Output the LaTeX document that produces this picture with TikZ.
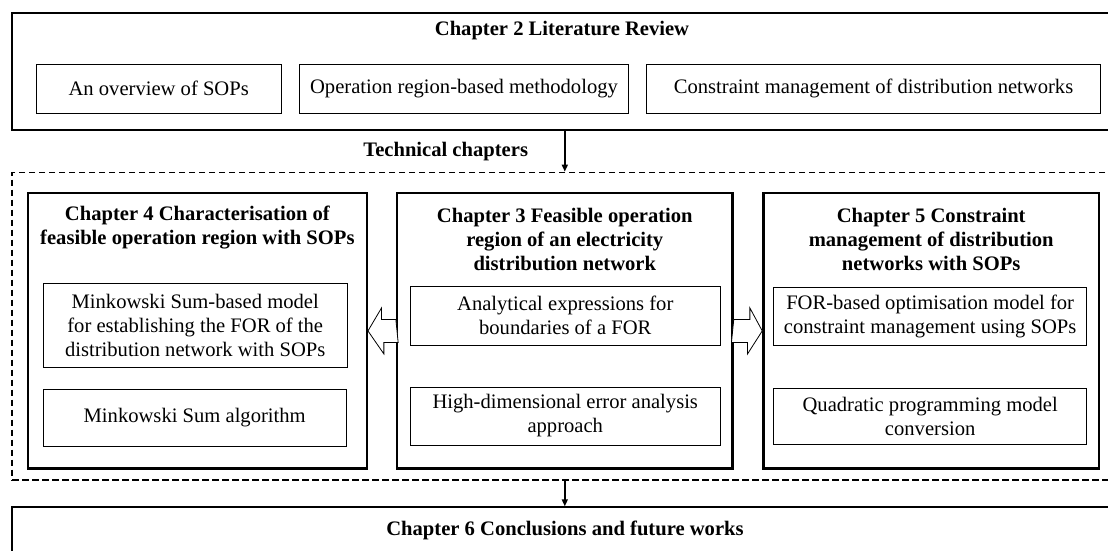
\documentclass[tikz,border=0pt]{standalone}
\usepackage{fontspec}
\setmainfont{Liberation Serif}
\usetikzlibrary{arrows.meta,calc}
\newcommand\bodysize{\fontsize{20.6}{24}\selectfont}
\newcommand\mkbox[7]{\node[#1, minimum width={#5pt-#3pt}, minimum height={#6pt-#4pt}] (#2) at ({(#3+#5)/2},{(#4+#6)/2}) {#7};}
\tikzset{
  outer/.style={draw, line width=2pt, inner sep=0pt},
  chap/.style={draw, line width=2.3pt, inner sep=0pt},
  ibox/.style={draw, line width=0.9pt, inner sep=0pt, align=center, font=\bodysize},
  ttl/.style={inner sep=0pt, align=center, font=\bodysize\bfseries},
  dbox/.style={draw, line width=1.8pt, dash pattern=on 6.5pt off 3.5pt, inner sep=0pt},
  arr/.style={line width=1.5pt, -{Triangle[length=7pt,width=6pt]}},
  barr/.style={draw, line width=0.8pt, fill=white, line join=miter},
}
\begin{document}
\begin{tikzpicture}[x=1pt,y=-1pt]
\useasboundingbox (0,0) rectangle (1108,550);
\clip (0,0) rectangle (1108,550);
\fill[white] (0,0) rectangle (1108,550);

% Chapter 2
\mkbox{outer}{lit}{12.3}{12.7}{1125}{129.5}{}
\node[ttl] (litt) at (562,31) {Chapter 2 Literature Review};
\mkbox{ibox}{sop}{36}{64}{281.4}{113.3}{An overview of SOPs}
\mkbox{ibox}{orm}{299.3}{64}{628.7}{113.3}{Operation region-based methodology}
\mkbox{ibox}{cmd}{646.2}{64}{1100.9}{113.3}{Constraint management of distribution networks}

% Technical chapters
\node[ttl] (techt) at (445.7,152) {Technical chapters};
\mkbox{dbox}{tech}{12.3}{172.5}{1125}{480}{}

\mkbox{chap}{ch4}{28.1}{193.3}{366.8}{468.5}{}
\mkbox{chap}{ch3}{397}{193.3}{732.6}{468.5}{}
\mkbox{chap}{ch5}{763.4}{193.3}{1099}{468.5}{}

\node[ttl] (ch4t) at (197.4,228) {Chapter 4 Characterisation of\\feasible operation region with SOPs};
\node[ttl] (ch3t) at (564.8,239) {Chapter 3 Feasible operation\\region of an electricity\\distribution network};
\node[ttl] (ch5t) at (931.2,239) {Chapter 5 Constraint\\management of distribution\\networks with SOPs};

\mkbox{ibox}{mkm}{43.5}{283}{347}{367}{Minkowski Sum-based model\\for establishing the FOR of the\\distribution network with SOPs}
\mkbox{ibox}{mka}{43}{389}{346.4}{446.5}{Minkowski Sum algorithm}
\mkbox{ibox}{ana}{410}{286}{720.5}{345}{Analytical expressions for\\boundaries of a FOR}
\mkbox{ibox}{hde}{410}{387}{720.5}{445}{High-dimensional error analysis\\approach}
\mkbox{ibox}{opt}{773.7}{287}{1086.6}{345}{FOR-based optimisation model for\\constraint management using SOPs}
\mkbox{ibox}{qp}{773.7}{388}{1086.6}{444}{Quadratic programming model\\conversion}

% Chapter 6
\mkbox{outer}{concl}{12.3}{507.3}{1125}{570}{}
\node[ttl] (conclt) at (565,530) {Chapter 6 Conclusions and future works};

% connectors
\coordinate (ax) at (564.8,0);
\draw[arr] (lit.south -| ax) -- (tech.north -| ax);
\draw[arr] (tech.south -| ax) -- (concl.north -| ax);

\draw[barr] (ch3.west) ++(0,-11.5) -- ++(-14.3,0) -- ++(0,-11.5) -- (ch4.east) -- ++(15.9,23) -- ++(0,-11.5) -- ++(14.3,0) -- cycle;
\draw[barr] (ch3.east) ++(0,-11.5) -- ++(16.1,0) -- ++(0,-11.5) -- (ch5.west) -- ++(-14.7,23) -- ++(0,-11.5) -- ++(-16.1,0) -- cycle;
\end{tikzpicture}
\end{document}
